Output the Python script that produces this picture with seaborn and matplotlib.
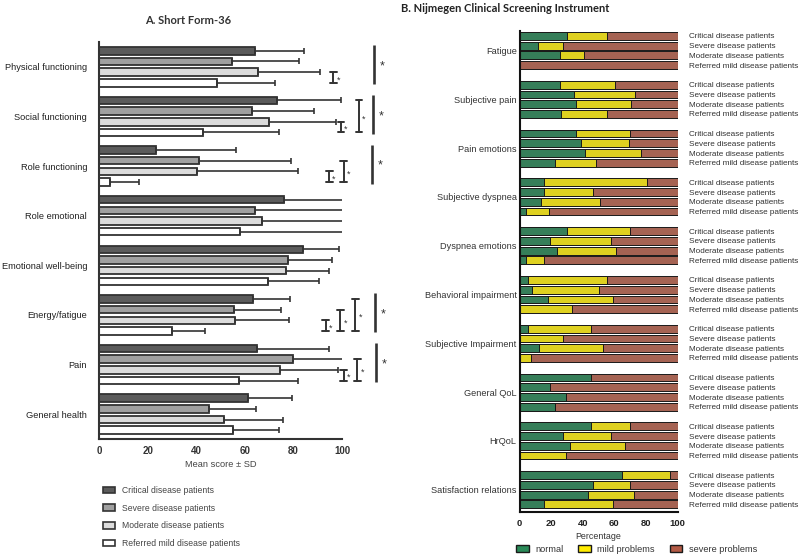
import numpy as np
import pandas as pd
import matplotlib
matplotlib.use("Agg")
import matplotlib.pyplot as plt
import seaborn as sns
from matplotlib.patches import Patch

# ---------------- data ----------------
patient_groups = ["Critical disease patients", "Severe disease patients",
                  "Moderate disease patients", "Referred mild disease patients"]

sf_domains = ["Physical functioning", "Social functioning", "Role functioning",
              "Role emotional", "Emotional well-being", "Energy/fatigue",
              "Pain", "General health"]
sf_critical_mean = [64.2, 73.1, 23.5, 76.0, 84.1, 63.5, 65.0, 61.2]
sf_severe_mean = [54.6, 63.1, 41.3, 64.2, 77.6, 55.6, 80.0, 45.1]
sf_moderate_mean = [65.3, 69.8, 40.2, 67.2, 77.1, 55.8, 74.6, 51.6]
sf_mild_mean = [48.4, 42.9, 4.5, 58.0, 69.7, 29.9, 57.6, 55.3]
sf_critical_sd = [20.2, 26.4, 32.7, 38.0, 14.7, 15.0, 29.5, 18.1]
sf_severe_sd = [27.6, 25.5, 37.6, 40.0, 18.3, 19.3, 26.0, 19.5]
sf_moderate_sd = [25.7, 27.7, 41.8, 38.0, 17.4, 22.5, 23.9, 24.1]
sf_mild_sd = [24.2, 31.3, 12.1, 45.0, 20.7, 13.7, 24.1, 18.6]

nc_domains = ["Fatigue", "Subjective pain", "Pain emotions", "Subjective dyspnea",
              "Dyspnea emotions", "Behavioral impairment", "Subjective Impairment",
              "General QoL", "HrQoL", "Satisfaction relations"]
nc_normal_critical = [30.3, 25.3, 35.6, 15.2, 30.3, 5.1, 5.1, 45.5, 45.5, 65.0]
nc_mildprob_critical = [24.7, 34.9, 34.5, 65.2, 39.8, 49.9, 40.2, 0.0, 24.6, 30.4]
nc_normal_severe = [11.4, 34.7, 38.7, 15.4, 19.2, 7.8, 0.0, 19.4, 27.2, 46.5]
nc_mildprob_severe = [15.8, 38.6, 30.8, 31.1, 38.7, 42.5, 27.2, 0.0, 30.7, 23.2]
nc_normal_moderate = [25.7, 35.6, 41.5, 13.9, 23.6, 17.9, 12.2, 29.7, 31.8, 43.4]
nc_mildprob_moderate = [15.3, 35.1, 35.1, 37.3, 37.4, 41.0, 40.8, 0.0, 35.1, 29.2]
nc_normal_mild = [0.0, 26.1, 22.3, 3.8, 3.8, 0.0, 0.0, 22.3, 0.0, 15.2]
nc_mildprob_mild = [0.0, 29.5, 26.1, 14.7, 11.4, 33.5, 7.4, 0.0, 29.7, 44.2]

outcome_labels = ["normal", "mild problems", "severe problems"]

# ---------------- build tables ----------------
sf_means = [sf_critical_mean, sf_severe_mean, sf_moderate_mean, sf_mild_mean]
sf_sds = [sf_critical_sd, sf_severe_sd, sf_moderate_sd, sf_mild_sd]
rows = []
for g, m, s in zip(patient_groups, sf_means, sf_sds):
    for d, mv, sv in zip(sf_domains, m, s):
        rows.append(dict(domain=d, group=g, mean=mv, sd=sv))
sf_df = pd.DataFrame(rows)

nc_norm = [nc_normal_critical, nc_normal_severe, nc_normal_moderate, nc_normal_mild]
nc_mildp = [nc_mildprob_critical, nc_mildprob_severe, nc_mildprob_moderate, nc_mildprob_mild]
rows = []
for g, n, mp in zip(patient_groups, nc_norm, nc_mildp):
    for d, nv, mv in zip(nc_domains, n, mp):
        rows.append(dict(domain=d, group=g, normal=nv, mildp=mv,
                         cum_mild=nv + mv, cum_total=100.0))
nc_df = pd.DataFrame(rows)

# ---------------- style ----------------
sns.set_style("white")
plt.rcParams["font.family"] = ["Liberation Sans", "DejaVu Sans"]
dark = "#333333"
grey_pal = ["#5b5b5b", "#a0a0a0", "#dcdcdc", "#ffffff"]
c_green, c_yellow, c_brown = "#2a8a58", "#ffec00", "#b35a45"

fig = plt.figure(figsize=(8, 5.56), dpi=100)

# ================= Panel A =================
axl = fig.add_axes([99 / 800, 1 - 439 / 556, 243 / 800, 397 / 556])
sns.barplot(data=sf_df, y="domain", x="mean", hue="group", order=sf_domains,
            hue_order=patient_groups, palette=grey_pal, orient="h",
            width=0.86, gap=0.3, edgecolor=dark, linewidth=1.3,
            errorbar=None, legend=False, ax=axl)

# bar centres from the drawn patches
bar_conts = list(axl.containers)
centres = np.zeros((len(sf_domains), len(patient_groups)))
for j, cont in enumerate(bar_conts):
    for i, p in enumerate(cont.patches):
        centres[i, j] = p.get_y() + p.get_height() / 2
for j in range(len(patient_groups)):
    axl.errorbar(sf_means[j], centres[:, j], xerr=[np.zeros(len(sf_domains)), sf_sds[j]],
                 fmt="none", ecolor=dark, elinewidth=1.2, capsize=2, capthick=1.2, zorder=1)

axl.set_xlim(0, 100)
axl.set_ylim(7.5, -0.5)
axl.set_xticks([0, 20, 40, 60, 80, 100])
axl.set_xlabel("Mean score \u00b1 SD", fontsize=6.7, color="#444444", labelpad=3)
axl.set_ylabel("")
for lab in axl.get_xticklabels():
    lab.set_fontweight("bold")
axl.tick_params(axis="x", labelsize=7, length=3, width=1.2, color=dark, pad=2, labelcolor=dark)
axl.tick_params(axis="y", labelsize=6.7, length=0, pad=8.5, labelcolor="#222222")
for s in ["top", "right"]:
    axl.spines[s].set_visible(False)
for s in ["left", "bottom"]:
    axl.spines[s].set_linewidth(1.5)
    axl.spines[s].set_color(dark)

# significance brackets
small_brackets = [(0, 2, 3, 96.4), (1, 2, 3, 99.6), (1, 0, 3, 107.0), (2, 2, 3, 94.7),
                  (2, 1, 3, 100.7), (5, 2, 3, 93.3), (5, 1, 3, 99.3), (5, 0, 3, 105.5),
                  (6, 2, 3, 100.7), (6, 1, 3, 106.3)]
for gi, a, b, x in small_brackets:
    y0, y1 = centres[gi, a], centres[gi, b]
    cap = 1.4
    axl.plot([x, x], [y0, y1], color=dark, lw=1.4, clip_on=False)
    axl.plot([x - cap, x + cap], [y0, y0], color=dark, lw=1.4, clip_on=False)
    axl.plot([x - cap, x + cap], [y1, y1], color=dark, lw=1.4, clip_on=False)
    axl.text(x + 1.3, (y0 + y1) / 2 + 0.05, "*", fontsize=6.5, color=dark,
             ha="left", va="center", clip_on=False)

big_bars = [(0, 113.0), (1, 112.6), (2, 112.2), (5, 113.4), (6, 113.8)]
for gi, x in big_bars:
    y0, y1 = centres[gi, 0] - 0.11, centres[gi, 3] + 0.03
    axl.plot([x, x], [y0, y1], color=dark, lw=1.9, clip_on=False, solid_capstyle="butt")
    axl.text(x + 2.6, centres[gi, 1] + 0.1, "*", fontsize=9, color=dark,
             ha="left", va="center", clip_on=False)

fig.text(188 / 800, 1 - 21 / 556, "A. Short Form-36", fontsize=8, fontweight="bold",
         family=["Lato", "DejaVu Sans"], ha="center", va="center", color="#333333")

leg_handles = [Patch(facecolor=c, edgecolor=dark, linewidth=1.2) for c in grey_pal]
fig.legend(leg_handles, patient_groups, loc="upper left",
           bbox_to_anchor=(103 / 800, 1 - 486 / 556), frameon=False, fontsize=6.2,
           handlelength=1.45, handleheight=0.8, handletextpad=0.75,
           labelspacing=1.0, borderpad=0, borderaxespad=0, labelcolor="#444444")

# ================= Panel B =================
axr = fig.add_axes([519.5 / 800, 1 - 511.7 / 556, 158.2 / 800, 480.7 / 556])
for col, colr in [("cum_total", c_brown), ("cum_mild", c_yellow), ("normal", c_green)]:
    sns.barplot(data=nc_df, y="domain", x=col, hue="group", order=nc_domains,
                hue_order=patient_groups, palette=[colr] * 4, orient="h",
                width=0.8, gap=0.2, edgecolor="#1a1a1a", linewidth=0.7,
                errorbar=None, legend=False, ax=axr)

axr.set_xlim(0, 100)
axr.set_ylim(9.45, -0.4)
axr.set_xticks([0, 20, 40, 60, 80, 100])
axr.set_xlabel("Percentage", fontsize=6.4, color="#333333", labelpad=3)
axr.set_ylabel("")
for lab in axr.get_xticklabels():
    lab.set_fontweight("bold")
axr.tick_params(axis="x", labelsize=6.8, length=3, width=1.2, color=dark, pad=2, labelcolor="#222222")
axr.tick_params(axis="y", labelsize=6.6, length=0, pad=2, labelcolor="#333333")
for s in ["top", "right"]:
    axr.spines[s].set_visible(False)
for s in ["left", "bottom"]:
    axr.spines[s].set_linewidth(1.5)
    axr.spines[s].set_color("#111111")

pos, labs = [], []
for j, cont in enumerate(list(axr.containers)[:4]):
    for p in cont.patches:
        pos.append(p.get_y() + p.get_height() / 2)
        labs.append(patient_groups[j])
axr2 = axr.twinx()
axr2.set_ylim(axr.get_ylim())
axr2.set_yticks(pos)
axr2.set_yticklabels(labs)
axr2.tick_params(axis="y", labelsize=5.9, length=0, pad=8, labelcolor="#333333")
for s in axr2.spines.values():
    s.set_visible(False)

fig.text(401.5 / 800, 1 - 8 / 556, "B. Nijmegen Clinical Screening Instrument", fontsize=8,
         fontweight="bold", family=["Lato", "DejaVu Sans"], ha="left", va="center",
         color="#222222")

r_handles = [Patch(facecolor=c, edgecolor="#1a1a1a", linewidth=1.0)
             for c in [c_green, c_yellow, c_brown]]
fig.legend(r_handles, outcome_labels, loc="center left",
           bbox_to_anchor=(516 / 800, 1 - 549 / 556), ncol=3, frameon=False,
           fontsize=6.6, handlelength=1.37, handleheight=0.75, handletextpad=0.73,
           columnspacing=1.6, borderpad=0, borderaxespad=0, labelcolor="#333333")

fig.savefig("out.png", dpi=100)
